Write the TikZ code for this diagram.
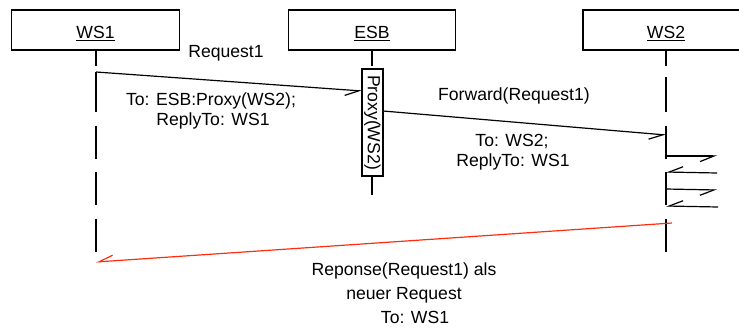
\documentclass[tikz,border=0pt]{standalone}
\usepackage{fontspec}
\setmainfont{Liberation Sans}
\usetikzlibrary{arrows.meta}
\definecolor{replyred}{RGB}{255,45,15}

\begin{document}
\begin{tikzpicture}[x=1pt,y=-1pt,line width=1.2pt,
  every node/.style={font=\fontsize{17.6}{21}\selectfont,inner sep=0pt},
  objbox/.style={draw,minimum height=40pt},
  lifeline/.style={dash pattern=on 33pt off 13.5pt,dash phase=17.5pt},
  msg/.style={-{Straight Barb[harpoon,swap,angle=44:15pt]}},
  reply/.style={msg,draw=replyred},
  txt/.style={anchor=base}]
\useasboundingbox (0,0) rectangle (739,327);
\clip (0,0) rectangle (739,327);

% object boxes
\node[objbox,minimum width=168pt] (ws1) at (95.5,30) {};
\node[objbox,minimum width=167pt] (esb) at (372,30) {};
\node[objbox,minimum width=166pt] (ws2) at (666,30) {};
\node[txt] (ws1t) at (95.5,38.5) {\underline{WS1}};
\node[txt] (esbt) at (372,38.5) {\underline{ESB}};
\node[txt] (ws2t) at (666,38.5) {\underline{WS2}};

% lifelines
\coordinate (ws1top) at (96,50);   \coordinate (ws1bot) at (96,252);
\coordinate (esbtop) at (372,50);  \coordinate (esbbot) at (372,195);
\coordinate (ws2top) at (666,50);  \coordinate (ws2bot) at (666,253);
\draw[lifeline] (ws1top) -- (ws1bot);
\draw[lifeline] (esbtop) -- (esbbot);
\draw[lifeline] (ws2top) -- (ws2bot);
\coordinate (ws1a) at (96,72); \coordinate (ws1b) at (96,80);
\draw (ws1a) -- (ws1b);
\coordinate (ws2a) at (666,77); \coordinate (ws2b) at (666,80);
\draw (ws2a) -- (ws2b);

% activation bar of the ESB proxy
\node[draw,fill=white,minimum width=21pt,minimum height=107pt] (act) at (372.5,122.5) {};
\node[rotate=-90] (proxy) at (act.center) {Proxy(WS2)};

% messages
\coordinate (m1s) at (96,72);   \coordinate (m1e) at (362,91);
\coordinate (m2s) at (383,111); \coordinate (m2e) at (666,135);
\draw[msg] (m1s) -- (m1e);
\draw[msg] (m2s) -- (m2e);

\coordinate (s1a) at (666,156); \coordinate (s1b) at (717,156);
\coordinate (s2a) at (717,173); \coordinate (s2b) at (666,172);
\coordinate (s3a) at (666,189); \coordinate (s3b) at (717,190);
\coordinate (s4a) at (718,207); \coordinate (s4b) at (666,206);
\draw[msg] (s1a) -- (s1b);
\draw[msg] (s2a) -- (s2b);
\draw[msg] (s3a) -- (s3b);
\draw[msg] (s4a) -- (s4b);

\coordinate (rs) at (672,223); \coordinate (re) at (96,262);
\draw[reply] (rs) -- (re);

% message labels
\node[txt] (l1) at (226,57) {Request1};
\node[txt] (l2) at (211,105.3) {To: ESB:Proxy(WS2);};
\node[txt] (l3) at (213,125.3) {ReplyTo: WS1};
\node[txt] (l4) at (514,100.5) {Forward(Request1)};
\node[txt] (l5) at (512,146.5) {To: WS2;};
\node[txt] (l6) at (513,166.5) {ReplyTo: WS1};
\node[txt] (l7) at (404,275.5) {Reponse(Request1) als};
\node[txt] (l8) at (404,299.5) {neuer Request};
\node[txt] (l9) at (415,323) {To: WS1};
\end{tikzpicture}
\end{document}
